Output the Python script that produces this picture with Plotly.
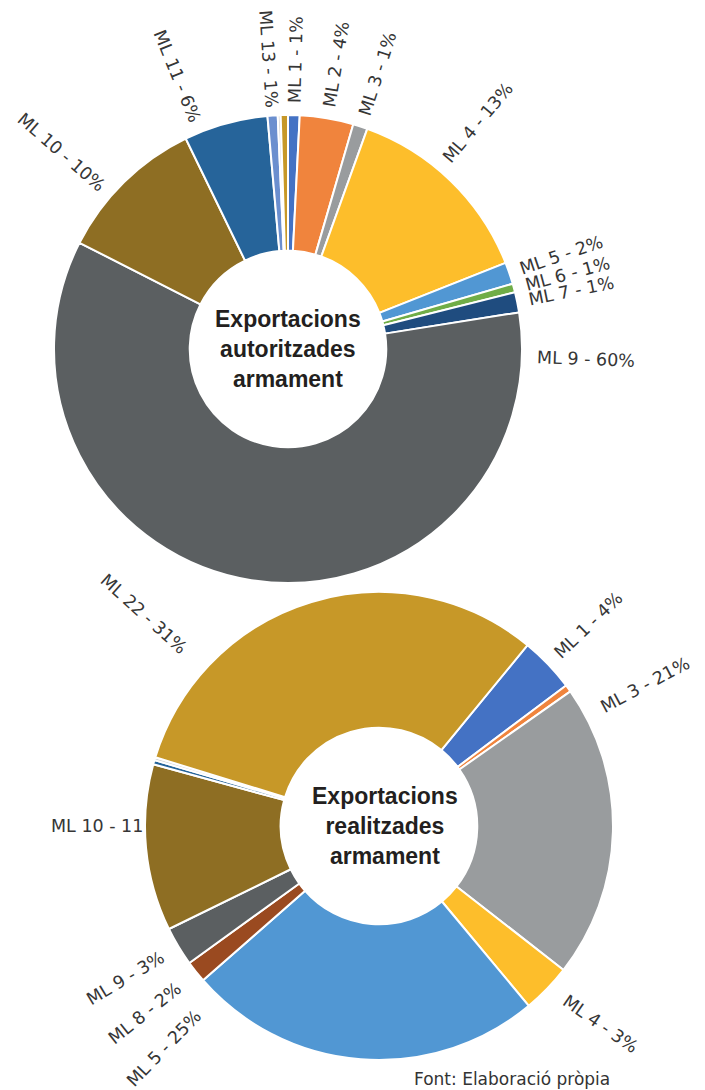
import math
import plotly.graph_objects as go

# page is 705x1090; the html body has an 8px margin, so the figure is 697x1082
OFF = 8
W, H = 705 - OFF, 1090 - OFF

# ---------------- data: top chart (authorised exports) ----------------
top_names = ["ML 1", "ML 2", "ML 3", "ML 4", "ML 5", "ML 6", "ML 7", "ML 9",
             "ML 10", "ML 11", "ML 13", "ML 15", "ML 22"]
top_values = [0.8, 3.7, 1.0, 13.5, 1.5, 0.6, 1.4, 60.0, 10.3, 5.8, 0.7, 0.2, 0.5]
top_labels = ["ML 1 - 1%", "ML 2 - 4%", "ML 3 - 1%", "ML 4 - 13%", "ML 5 - 2%",
              "ML 6 - 1%", "ML 7 - 1%", "ML 9 - 60%", "ML 10 - 10%", "ML 11 - 6%",
              "ML 13 - 1%", "", ""]
top_title = "Exportacions<br>autoritzades<br>armament"

# ---------------- data: bottom chart (realised exports) ----------------
bot_names = ["ML 1", "ML 2", "ML 3", "ML 4", "ML 5", "ML 8", "ML 9", "ML 10",
             "ML 11", "ML 13", "ML 22"]
bot_values = [3.8, 0.5, 20.3, 3.4, 24.6, 1.5, 2.7, 11.5, 0.3, 0.2, 31.2]
bot_labels = ["ML 1 - 4%", "", "ML 3 - 21%", "ML 4 - 3%", "ML 5 - 25%",
              "ML 8 - 2%", "ML 9 - 3%", "ML 10 - 11", "", "", "ML 22 - 31%"]
bot_title = "Exportacions<br>realitzades<br>armament"

source_text = "Font: Elaboració pròpia"

# ---------------- styles ----------------
COLORS = {
    "ML 1": "#4472C4", "ML 2": "#F0843D", "ML 3": "#999C9E", "ML 4": "#FDBE2B",
    "ML 5": "#5197D3", "ML 6": "#70AD47", "ML 7": "#1F4C7F", "ML 8": "#9A4A20",
    "ML 9": "#5B5F61", "ML 10": "#8E6E23", "ML 11": "#26649A", "ML 13": "#6B8FCF",
    "ML 15": "#D6D6D6", "ML 22": "#C79828",
}
BOT_COLORS = dict(COLORS, **{"ML 13": "#D6D6D6"})

LABEL_FONT = dict(family="DejaVu Sans", size=17.5, color="#363636")
CENTER_FONT = dict(family="Liberation Sans, Arial, sans-serif", size=23, color="#231F20")

CHAR_W = {"M": 0.863, "L": 0.557, " ": 0.318, "-": 0.361, "%": 0.950}


def text_width(s, size):
    return sum(CHAR_W.get(c, 0.636) for c in s) * size


def px(x, y):
    """page pixel -> paper coordinate"""
    return (x - OFF) / W, 1 - (y - OFF) / H


def pie_domain(cx, cy, r):
    x0, y1 = px(cx - r, cy - r)
    x1, y0 = px(cx + r, cy + r)
    return dict(x=[x0, x1], y=[y0, y1])


def label_annotations(names, values, labels, cx, cy, r, rotation,
                      angle_over, gap_over, rot_over, gap):
    anns = []
    total = sum(values)
    cum = 0.0
    for n, v, lab in zip(names, values, labels):
        mid = rotation + 360.0 * (cum + v / 2) / total
        cum += v
        if not lab:
            continue
        th = angle_over.get(n, mid) % 360
        g = gap_over.get(n, gap)
        w = text_width(lab, LABEL_FONT["size"])
        t = math.radians(th)
        ix = cx + (r + g) * math.sin(t)
        iy = cy - (r + g) * math.cos(t)
        ang = th - 90 if th < 180 else th - 270
        ang = rot_over.get(n, ang)
        # text runs along its own angle from the inner end
        a = math.radians(ang)
        sgn = 1 if th < 180 else -1
        x = ix + sgn * (w / 2) * math.cos(a)
        y = iy + sgn * (w / 2) * math.sin(a)
        xp, yp = px(x, y)
        anns.append(dict(x=xp, y=yp, xref="paper", yref="paper", text=lab,
                         showarrow=False, textangle=ang, xanchor="center",
                         yanchor="middle", font=LABEL_FONT))
    return anns


TOP_C = (288, 349, 234)
BOT_C = (379, 826, 234)
BOT_ROT = 39.4

fig = go.Figure()
fig.add_trace(go.Pie(
    labels=top_names, values=top_values, sort=False, direction="clockwise",
    rotation=0, hole=0.42, textinfo="none", hoverinfo="label+percent",
    marker=dict(colors=[COLORS[n] for n in top_names], line=dict(color="white", width=2)),
    domain=pie_domain(*TOP_C),
))
fig.add_trace(go.Pie(
    labels=bot_names, values=bot_values, sort=False, direction="clockwise",
    rotation=BOT_ROT, hole=0.42, textinfo="none", hoverinfo="label+percent",
    marker=dict(colors=[BOT_COLORS[n] for n in bot_names], line=dict(color="white", width=2)),
    domain=pie_domain(*BOT_C),
))

anns = []
anns += label_annotations(top_names, top_values, top_labels, *TOP_C, 0,
                          {"ML 4": 40, "ML 9": 92, "ML 10": 311, "ML 11": 338},
                          {"ML 9": 15, "ML 13": 8}, {}, 12)
anns += label_annotations(bot_names, bot_values, bot_labels, *BOT_C, BOT_ROT,
                          {"ML 3": 62, "ML 5": 224, "ML 10": 270, "ML 22": 312, "ML 4": 133},
                          {"ML 22": 28, "ML 5": 26, "ML 8": 22, "ML 1": 13, "ML 10": 2, "ML 4": 20},
                          {"ML 4": 35}, 18)

for (cx, cy, _), title in ((TOP_C, top_title), (BOT_C, bot_title)):
    xp, yp = px(cx + (0 if cy < 500 else 6), cy)
    anns.append(dict(x=xp, y=yp, xref="paper", yref="paper", text="<b>" + title + "</b>",
                     showarrow=False, xanchor="center", yanchor="middle", font=CENTER_FONT))

xp, yp = px(412, 1067)
anns.append(dict(x=xp, y=yp, xref="paper", yref="paper", text=source_text, showarrow=False,
                 xanchor="left", yanchor="top", font=dict(family="DejaVu Sans", size=17, color="#333333")))

fig.update_layout(
    width=W, height=H, margin=dict(l=0, r=0, t=0, b=0),
    paper_bgcolor="white", plot_bgcolor="white", showlegend=False,
    annotations=anns,
)

fig.write_html("out.html")
